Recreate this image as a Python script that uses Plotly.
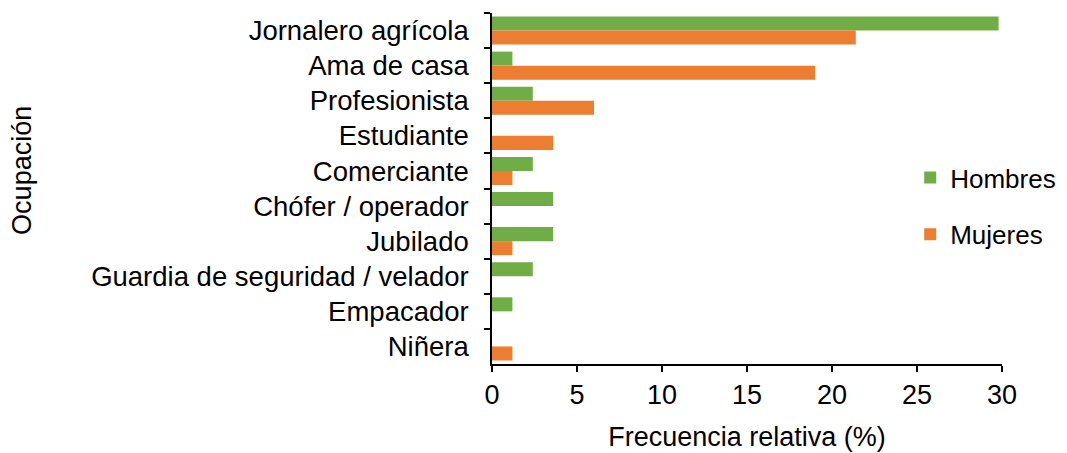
import plotly.graph_objects as go

categories = ["Jornalero agrícola", "Ama de casa", "Profesionista", "Estudiante",
              "Comerciante", "Chófer / operador", "Jubilado",
              "Guardia de seguridad / velador", "Empacador", "Niñera"]
hombres = [29.8, 1.2, 2.4, 0, 2.4, 3.6, 3.6, 2.4, 1.2, 0]
mujeres = [21.4, 19.0, 6.0, 3.6, 1.2, 0, 1.2, 0, 0, 1.2]
x_ticks = [0, 5, 10, 15, 20, 25, 30]

FONT = "Liberation Sans, Arial, sans-serif"

fig = go.Figure()
fig.add_trace(go.Bar(y=categories, x=hombres, orientation="h", name="Hombres",
                     marker=dict(color="#70AD47", line=dict(width=0)),
                     legendgroup="h"))
fig.add_trace(go.Bar(y=categories, x=mujeres, orientation="h", name="Mujeres",
                     marker=dict(color="#ED7D31", line=dict(width=0)),
                     legendgroup="m"))

# the page body adds an 8px margin, so the figure is drawn 8px right and down
fig.update_layout(
    width=1059, height=445,
    margin=dict(l=484, r=65, t=5, b=89, autoexpand=False),
    paper_bgcolor="white", plot_bgcolor="white",
    font=dict(family=FONT, size=27, color="black"),
    barmode="group", bargap=0.2, bargroupgap=0,
    legend=dict(x=0.82, y=0.45, xanchor="left", yanchor="middle",
                traceorder="grouped", tracegroupgap=20,
                font=dict(size=26), bgcolor="rgba(0,0,0,0)"),
    xaxis=dict(range=[0, 30], tickvals=x_ticks, ticks="outside", ticklen=6,
               tickwidth=1.5, tickcolor="black", showline=True, linecolor="black",
               linewidth=1.5, showgrid=False, zeroline=False,
               tickfont=dict(size=27),
               title=dict(text="Frecuencia relativa (%)", standoff=18,
                          font=dict(size=27))),
    yaxis=dict(autorange="reversed", ticks="outside", ticklen=6, tickwidth=1.5,
               tickcolor="black", tickson="boundaries", showline=True,
               linecolor="black", linewidth=1.5, showgrid=False,
               ticklabelstandoff=16, tickfont=dict(size=27.5)),
    annotations=[dict(text="Ocupación", textangle=-90, xref="paper", yref="paper",
                      x=-0.9216, y=0.553, xanchor="center", yanchor="middle",
                      showarrow=False, font=dict(size=27))],
)

fig.write_html("out.html")
